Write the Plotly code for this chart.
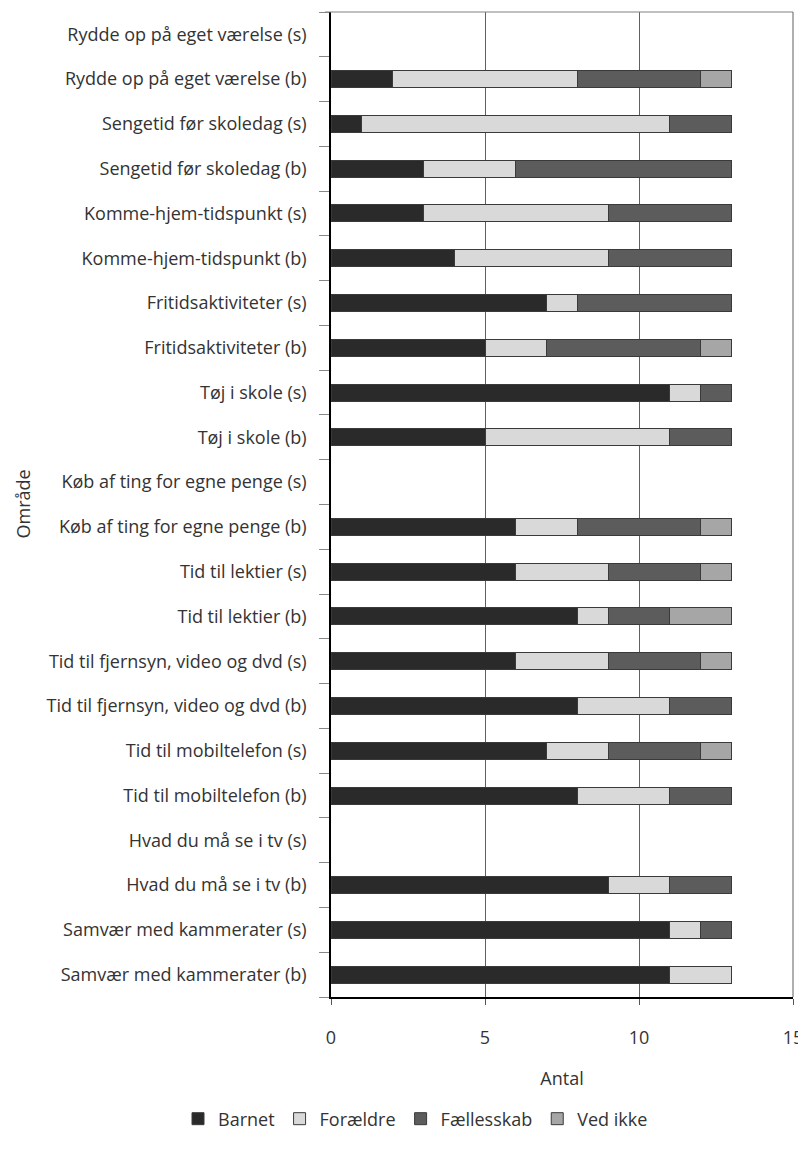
import plotly.graph_objects as go

categories = [
    "Rydde op på eget værelse (s)",
    "Rydde op på eget værelse (b)",
    "Sengetid før skoledag (s)",
    "Sengetid før skoledag (b)",
    "Komme-hjem-tidspunkt (s)",
    "Komme-hjem-tidspunkt (b)",
    "Fritidsaktiviteter (s)",
    "Fritidsaktiviteter (b)",
    "Tøj i skole (s)",
    "Tøj i skole (b)",
    "Køb af ting for egne penge (s)",
    "Køb af ting for egne penge (b)",
    "Tid til lektier (s)",
    "Tid til lektier (b)",
    "Tid til fjernsyn, video og dvd (s)",
    "Tid til fjernsyn, video og dvd (b)",
    "Tid til mobiltelefon (s)",
    "Tid til mobiltelefon (b)",
    "Hvad du må se i tv (s)",
    "Hvad du må se i tv (b)",
    "Samvær med kammerater (s)",
    "Samvær med kammerater (b)",
]

barnet      = [0, 2, 1, 3, 3, 4, 7, 5, 11, 5, 0, 6, 6, 8, 6, 8, 7, 8, 0, 9, 11, 11]
foraeldre   = [0, 6, 10, 3, 6, 5, 1, 2, 1, 6, 0, 2, 3, 1, 3, 3, 2, 3, 0, 2, 1, 2]
faellesskab = [0, 4, 2, 7, 4, 4, 5, 5, 1, 2, 0, 4, 3, 2, 3, 2, 3, 2, 0, 2, 1, 0]
ved_ikke    = [0, 1, 0, 0, 0, 0, 0, 1, 0, 0, 0, 1, 1, 2, 1, 0, 1, 0, 0, 0, 0, 0]

series = [
    ("Barnet", barnet, "#2a2a2a"),
    ("Forældre", foraeldre, "#d9d9d9"),
    ("Fællesskab", faellesskab, "#5c5c5c"),
    ("Ved ikke", ved_ikke, "#a6a6a6"),
]

x_ticks = [0, 5, 10, 15]

FONT = "Open Sans"
FS = 18
TXT = "#333333"

W, H = 796, 1134  # page body has an 8px margin on every side
ML, MR, MT, MB = 323, 11, 4, 140
PW = W - ML - MR
PH = H - MT - MB

fig = go.Figure()
for name, vals, col in series:
    fig.add_trace(go.Bar(
        y=categories, x=[v if v else None for v in vals], name=name, orientation="h",
        marker=dict(color=col, line=dict(color="#3a3a3a", width=1)),
    ))

fig.update_layout(
    barmode="stack",
    bargap=0.62,
    width=W, height=H,
    margin=dict(l=ML, r=MR, t=MT, b=MB),
    plot_bgcolor="white", paper_bgcolor="white",
    font=dict(family=FONT, size=FS, color=TXT),
    showlegend=True,
    legend=dict(
        orientation="h", xref="paper", yref="paper",
        x=(170 - ML) / PW, xanchor="left",
        y=-(1098 - (MT + PH)) / PH, yanchor="top",
        font=dict(family=FONT, size=FS, color=TXT),
        itemwidth=30, traceorder="normal",
    ),
    shapes=[
        dict(type="line", xref="paper", yref="paper",
             x0=-6 / PW, x1=1, y0=1, y1=1,
             line=dict(color="#808080", width=1)),
        dict(type="line", xref="paper", yref="paper",
             x0=1, x1=1, y0=0, y1=1,
             line=dict(color="#606060", width=1)),
    ],
    annotations=[dict(text="Område", xref="paper", yref="paper",
                      x=(14 - ML) / PW, y=0.5, textangle=-90,
                      showarrow=False, xanchor="center", yanchor="middle",
                      font=dict(family=FONT, size=FS, color=TXT))],
)

fig.update_xaxes(
    range=[0, 15], tickvals=x_ticks, ticktext=[str(v) for v in x_ticks],
    showgrid=True, gridcolor="#606060", gridwidth=1,
    showline=True, linecolor="black", linewidth=1.5,
    ticks="outside", ticklen=6, tickcolor="#555555",
    ticklabelstandoff=18, ticklabeloverflow="allow",
    zeroline=False, automargin=False,
    title=dict(text="Antal", standoff=24, font=dict(family=FONT, size=FS, color=TXT)),
    tickfont=dict(family=FONT, size=FS, color=TXT),
)

fig.update_yaxes(
    categoryorder="array", categoryarray=categories[::-1],
    showgrid=False, automargin=False,
    showline=True, linecolor="black", linewidth=1.5,
    ticks="outside", ticklen=10, tickcolor="#888888", tickson="boundaries",
    ticklabelstandoff=19,
    tickfont=dict(family=FONT, size=FS, color=TXT),
)

fig.write_html("out.html")
